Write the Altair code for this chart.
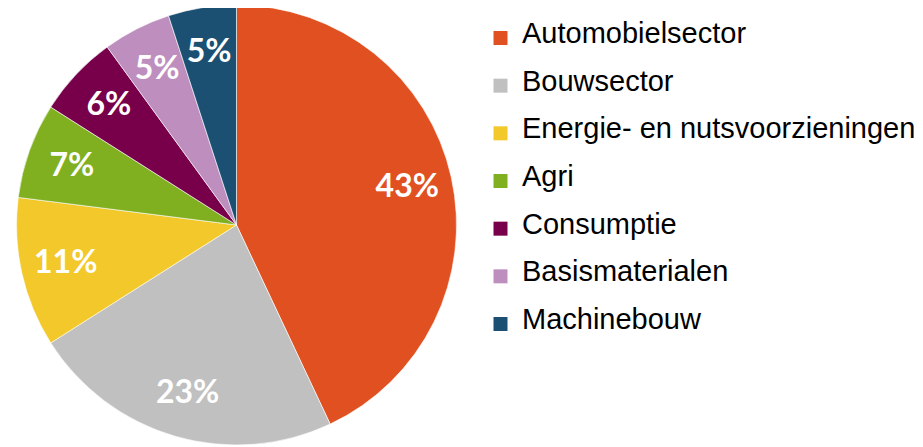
import altair as alt
import pandas as pd

categories = ["Automobielsector", "Bouwsector", "Energie- en nutsvoorzieningen",
              "Agri", "Consumptie", "Basismaterialen", "Machinebouw"]
values = [43, 23, 11, 7, 6, 5, 5]
labels = ["43%", "23%", "11%", "7%", "6%", "5%", "5%"]
colors = ["#E05020", "#C0C0C0", "#F2C82A", "#80B020", "#78004A", "#BE8FBE", "#1B5072"]

df = pd.DataFrame({"cat": categories, "val": values, "lab": labels,
                   "order": list(range(len(categories)))})

color_scale = alt.Scale(domain=categories, range=colors)
cx, cy, R = 228.5, 217, 220

base = alt.Chart(df)

pie = base.mark_arc(stroke="white", strokeWidth=0.6, radius=R).encode(
    theta=alt.Theta("val:Q", stack=True),
    order=alt.Order("order:Q"),
    color=alt.Color("cat:N", scale=color_scale, legend=None),
    x=alt.value(cx), y=alt.value(cy),
)

pie_text = base.mark_text(radius=175, font="Lato", fontWeight="bold", fontSize=32,
                          color="white", baseline="middle", align="center").encode(
    theta=alt.Theta("val:Q", stack=True),
    order=alt.Order("order:Q"),
    text="lab:N",
    x=alt.value(cx), y=alt.value(cy),
)

ypos = alt.Y("cat:N", sort=categories, axis=None,
             scale=alt.Scale(type="point", domain=categories, range=[30, 316], padding=0))

leg_sym = base.mark_square(size=196, opacity=1).encode(
    x=alt.value(492.5),
    y=ypos,
    color=alt.Color("cat:N", scale=color_scale, legend=None),
)

leg_txt = base.mark_text(align="left", baseline="alphabetic", dy=5,
                         font="Liberation Sans", fontSize=29, color="black").encode(
    x=alt.value(514),
    y=ypos,
    text="cat:N",
)

chart = alt.layer(pie, pie_text, leg_sym, leg_txt).properties(
    width=907, height=439, padding=0,
    autosize=alt.AutoSizeParams(type="none"),
).configure_view(stroke=None)

chart.save("out.html", embed_options={"renderer": "svg", "actions": False})
